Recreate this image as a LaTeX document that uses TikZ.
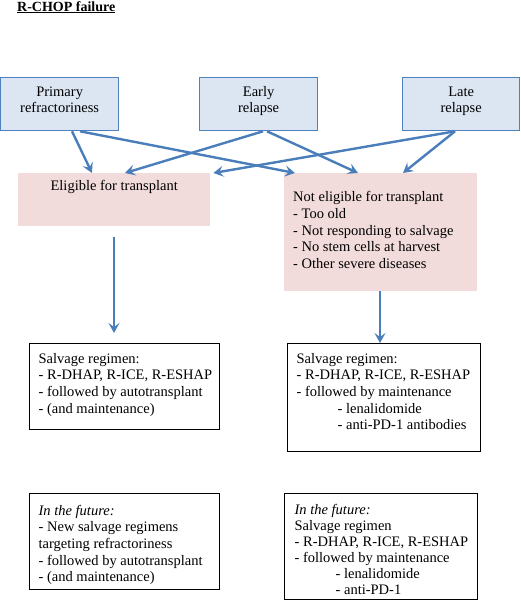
\documentclass[tikz,border=0pt]{standalone}
\usepackage{fontspec}
\setmainfont{Liberation Serif}
\usetikzlibrary{calc,arrows.meta}
\definecolor{bluefill}{HTML}{DCE6F2}
\definecolor{blueline}{HTML}{4F81BD}
\definecolor{pinkfill}{HTML}{F2DCDB}
\definecolor{arrowcol}{HTML}{4A7EBB}
\newcommand\bxl[4]{\begin{minipage}[c][#1][t]{#2}\vspace*{#3}\noindent\begin{tabular}[t]{@{}l@{}}#4\end{tabular}\end{minipage}}
\newcommand\bxc[4]{\begin{minipage}[c][#1][t]{#2}\centering\vspace*{#3}\begin{tabular}[t]{@{}c@{}}#4\end{tabular}\end{minipage}}
\begin{document}
\begin{tikzpicture}[x=1pt,y=-1pt,
  every node/.style={font=\fontsize{14.5}{16.6}\selectfont},
  topbox/.style={draw=blueline,line width=1.3pt,fill=bluefill,inner sep=0pt,anchor=north west},
  pinkbox/.style={fill=pinkfill,anchor=north west,inner xsep=9pt,inner ysep=0pt},
  whitebox/.style={draw=black,line width=1.3pt,fill=white,anchor=north west,inner xsep=9pt,inner ysep=0pt},
  flow/.style={draw=arrowcol,line width=2.4pt,-{Stealth[length=10pt,width=11pt,inset=4pt]}}]
\useasboundingbox (0,0) rectangle (520,600);
\node[anchor=base west,inner sep=0pt,font=\fontsize{14}{16}\selectfont\bfseries] (title) at (17,11) {\underline{R-CHOP failure}};
\node[topbox] (pr) at (0,77) {\bxc{53pt}{118pt}{7pt}{Primary\\refractoriness}};
\node[topbox] (er) at (199,77) {\bxc{53pt}{118pt}{7pt}{Early\\relapse}};
\node[topbox] (lr) at (402,77) {\bxc{53pt}{117pt}{7pt}{Late\\relapse}};
\node[pinkbox] (el) at (18,173) {\bxc{53pt}{174pt}{6pt}{Eligible for transplant}};
\node[pinkbox] (ne) at (284,173) {\bxl{118pt}{175pt}{17pt}{Not eligible for transplant\\- Too old\\- Not responding to salvage\\- No stem cells at harvest\\- Other severe diseases}};
\node[whitebox] (sl) at (29,343) {\bxl{86pt}{172pt}{8pt}{Salvage regimen:\\- R-DHAP, R-ICE, R-ESHAP\\- followed by autotransplant\\- (and maintenance)}};
\node[whitebox] (sr) at (287,343) {\bxl{108pt}{175pt}{8pt}{Salvage regimen:\\- R-DHAP, R-ICE, R-ESHAP\\- followed by maintenance\\\hspace*{41pt}- lenalidomide\\\hspace*{41pt}- anti-PD-1 antibodies}};
\node[whitebox] (fl) at (29,493) {\bxl{96pt}{172pt}{10pt}{\textit{In the future:}\\- New salvage regimens\\targeting refractoriness\\- followed by autotransplant\\- (and maintenance)}};
\node[whitebox,inner xsep=10pt,font=\fontsize{14.5}{16}\selectfont] (fr) at (284,493) {\bxl{106pt}{173pt}{10pt}{\textit{In the future:}\\Salvage regimen\\- R-DHAP, R-ICE, R-ESHAP\\- followed by maintenance\\\hspace*{41pt}- lenalidomide\\\hspace*{41pt}- anti-PD-1}};
\draw[flow] ($(pr.south west)+(72,0)$) -- ($(el.north west)+(74,0)$);
\draw[flow] ($(pr.south west)+(80,0)$) -- ($(ne.north west)+(11,0)$);
\draw[flow] ($(er.south west)+(64,0)$) -- ($(el.north west)+(107,0)$);
\draw[flow] ($(er.south west)+(68,0)$) -- ($(ne.north west)+(74,0)$);
\draw[flow] ($(lr.south west)+(53,0)$) -- ($(el.north east)+(3,0)$);
\draw[flow] ($(lr.south west)+(53,0)$) -- ($(ne.north west)+(119,0)$);
\draw[flow] ($(el.south west)+(96,11)$) -- ($(sl.north west)+(85,-10)$);
\draw[flow] ($(ne.south west)+(96,0)$) -- ($(sr.north west)+(93,0)$);
\end{tikzpicture}
\end{document}
